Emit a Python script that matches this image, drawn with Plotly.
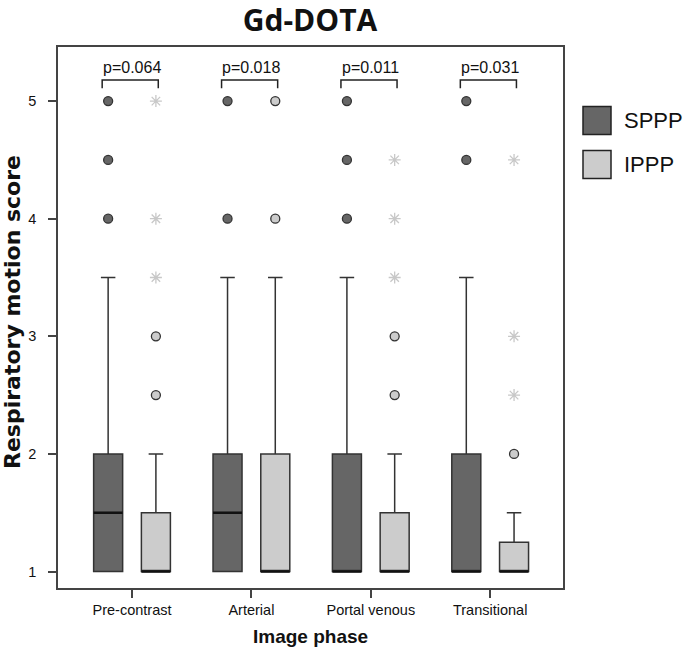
import plotly.graph_objects as go

phases = ["Pre-contrast", "Arterial", "Portal venous", "Transitional"]
p_values = ["p=0.064", "p=0.018", "p=0.011", "p=0.031"]

# SPPP box stats per phase
sppp_q1 = [1, 1, 1, 1]
sppp_med = [1.5, 1.5, 1, 1]
sppp_q3 = [2, 2, 2, 2]
sppp_lo = [1, 1, 1, 1]
sppp_hi = [3.5, 3.5, 3.5, 3.5]
sppp_circles = [[4, 4.5, 5], [4, 5], [4, 4.5, 5], [4.5, 5]]
sppp_stars = [[], [], [], []]

# IPPP box stats per phase
ippp_q1 = [1, 1, 1, 1]
ippp_med = [1, 1, 1, 1]
ippp_q3 = [1.5, 2, 1.5, 1.25]
ippp_lo = [1, 1, 1, 1]
ippp_hi = [2, 3.5, 2, 1.5]
ippp_circles = [[2.5, 3], [4, 5], [2.5, 3], [2]]
ippp_stars = [[3.5, 4, 5], [], [3.5, 4, 4.5], [2.5, 3, 4.5]]

groups = ["SPPP", "IPPP"]
colors = {"SPPP": "#666666", "IPPP": "#cccccc"}
offsets = {"SPPP": -0.2, "IPPP": 0.2}
box_w = 0.243

stats = {
    "SPPP": (sppp_q1, sppp_med, sppp_q3, sppp_lo, sppp_hi, sppp_circles, sppp_stars),
    "IPPP": (ippp_q1, ippp_med, ippp_q3, ippp_lo, ippp_hi, ippp_circles, ippp_stars),
}

fig = go.Figure()
line_col = "#333333"
FONT = "Liberation Sans"

for g in groups:
    q1, med, q3, lo, hi, circ, stars = stats[g]
    xs = [i + offsets[g] for i in range(len(phases))]
    fig.add_trace(go.Box(
        x=xs, q1=q1, median=med, q3=q3, lowerfence=lo, upperfence=hi,
        width=box_w, whiskerwidth=0.5, fillcolor=colors[g],
        line=dict(color=line_col, width=1.5), boxpoints=False,
        showlegend=False, name=g, hoverinfo="skip",
    ))
    # emphasised median lines
    mx, my = [], []
    for i in range(len(phases)):
        mx += [xs[i] - box_w / 2, xs[i] + box_w / 2, None]
        my += [med[i], med[i], None]
    fig.add_trace(go.Scatter(x=mx, y=my, mode="lines", showlegend=False,
                             line=dict(color="#111111", width=2.5), hoverinfo="skip"))
    cx, cy, sx, sy = [], [], [], []
    for i in range(len(phases)):
        for v in circ[i]:
            cx.append(xs[i]); cy.append(v)
        for v in stars[i]:
            sx.append(xs[i]); sy.append(v)
    fig.add_trace(go.Scatter(
        x=cx, y=cy, mode="markers", showlegend=False,
        marker=dict(symbol="circle", size=9, color=colors[g],
                    line=dict(color=line_col, width=1.3)),
    ))
    if sx:
        fig.add_trace(go.Scatter(
            x=sx, y=sy, mode="markers", showlegend=False,
            marker=dict(symbol="asterisk-open", size=10, color="#c8c8c8",
                        line=dict(color="#c8c8c8", width=1.3)),
        ))

# p-value brackets
for i, p in enumerate(p_values):
    fig.add_trace(go.Scatter(
        x=[i - 0.25, i - 0.25, i + 0.22, i + 0.22],
        y=[5.11, 5.18, 5.18, 5.11], mode="lines", showlegend=False,
        line=dict(color="#222222", width=1.5), hoverinfo="skip",
    ))
    fig.add_annotation(x=i, y=5.285, text=p, showarrow=False,
                       font=dict(size=16, color="#111111", family=FONT))

# custom legend (pixel layout converted to paper coords)
PW, PH = 505, 541
legend_centers = [120.5, 164.5]
for j, g in enumerate(groups):
    cyp = 1 - (legend_centers[j] - 47) / PH
    fig.add_shape(type="rect", xref="paper", yref="paper",
                  x0=1 + 20 / PW, x1=1 + 48 / PW, y0=cyp - 14 / PH, y1=cyp + 14 / PH,
                  fillcolor=colors[g], line=dict(color="#222222", width=1.5))
    fig.add_annotation(xref="paper", yref="paper", x=1 + 59 / PW, y=cyp,
                       text=g, showarrow=False, xanchor="left", yanchor="middle",
                       font=dict(size=22, color="#111111", family=FONT))

# axis titles
fig.add_annotation(xref="paper", yref="paper", x=0.5, y=-(636 - 588) / PH,
                   text="<b>Image phase</b>", showarrow=False, xanchor="center", yanchor="middle",
                   font=dict(size=19, color="#111111", family=FONT))
fig.add_annotation(xref="paper", yref="paper", x=-(58 - 12) / PW, y=1 - (312 - 47) / PH,
                   text="<b>Respiratory motion score</b>", textangle=-90, showarrow=False,
                   xanchor="center", yanchor="middle",
                   font=dict(size=22, color="#111111", family="DejaVu Sans"))

fig.update_layout(
    width=686, height=651,
    margin=dict(l=58, r=123, t=47, b=63),
    paper_bgcolor="white", plot_bgcolor="white",
    title=dict(text="<b>Gd-DOTA</b>", x=310 / 686, xanchor="center", y=1 - 20 / 651, yanchor="middle",
               font=dict(size=30, color="#111111", family="Open Sans")),
    font=dict(family=FONT, color="#111111"),
    xaxis=dict(range=[-0.62, 3.61], tickmode="array", tickvals=list(range(len(phases))),
               ticktext=phases, showgrid=False, zeroline=False, automargin=False,
               showline=True, linecolor="#444444", linewidth=1.5, mirror=True,
               ticks="outside", ticklen=8, tickwidth=1.5, tickcolor="#444444",
               tickfont=dict(size=14.5)),
    yaxis=dict(range=[0.86, 5.46], tickvals=[1, 2, 3, 4, 5], showgrid=False, zeroline=False,
               automargin=False, ticklabelstandoff=9,
               showline=True, linecolor="#444444", linewidth=1.5, mirror=True,
               ticks="outside", ticklen=8, tickwidth=1.5, tickcolor="#444444",
               tickfont=dict(size=14.5)),
)

fig.write_html("out.html", config={"displayModeBar": False},
               post_script="document.body.style.margin='0';document.body.style.overflow='hidden';")
